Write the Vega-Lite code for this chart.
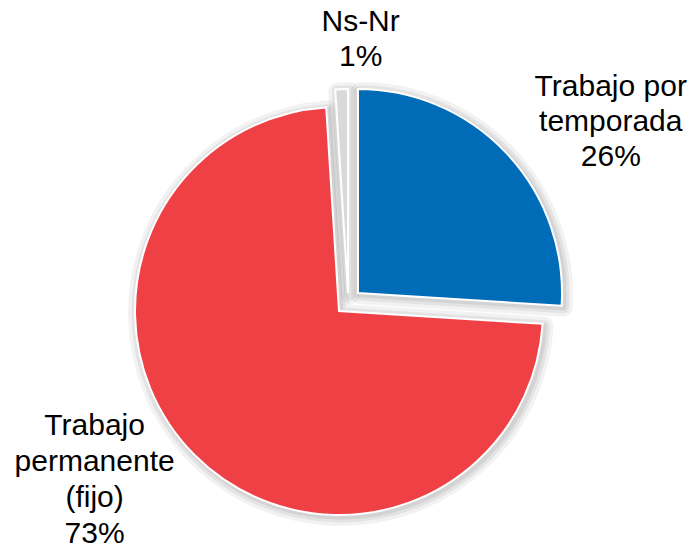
{
  "$schema": "https://vega.github.io/schema/vega-lite/v6.json",
  "width": 694,
  "height": 551,
  "padding": 0,
  "autosize": "none",
  "background": "white",
  "view": {"stroke": null},
  "data": {
    "values": [
      {"cat": "Trabajo por temporada", "value": 26, "label": "Trabajo por\ntemporada\n26%"},
      {"cat": "Trabajo permanente (fijo)", "value": 73, "label": "Trabajo\npermanente\n(fijo)\n73%"},
      {"cat": "Ns-Nr", "value": 1, "label": "Ns-Nr\n1%"}
    ]
  },
  "transform": [{"stack": "value", "groupby": [], "sort": [{"field": "cat", "order": "descending"}], "as": ["v0", "v1"]}],
  "layer": [
    {"transform": [{"filter": "datum.cat === 'Trabajo por temporada'"}],
     "mark": {"type": "arc", "outerRadius": 204, "fill": null, "stroke": "#000", "strokeOpacity": 0.05, "strokeWidth": 18, "strokeJoin": "round", "xOffset": 13, "yOffset": 19.5},
     "encoding": {"theta": {"field": "v0", "type": "quantitative", "scale": {"domain": [0, 100]}}, "theta2": {"field": "v1"}}},
    {"transform": [{"filter": "datum.cat === 'Trabajo por temporada'"}],
     "mark": {"type": "arc", "outerRadius": 204, "fill": null, "stroke": "#000", "strokeOpacity": 0.06, "strokeWidth": 11, "strokeJoin": "round", "xOffset": 13, "yOffset": 19.5},
     "encoding": {"theta": {"field": "v0", "type": "quantitative"}, "theta2": {"field": "v1"}}},
    {"transform": [{"filter": "datum.cat === 'Trabajo por temporada'"}],
     "mark": {"type": "arc", "outerRadius": 204, "fill": null, "stroke": "#000", "strokeOpacity": 0.07, "strokeWidth": 5, "strokeJoin": "round", "xOffset": 13, "yOffset": 19.5},
     "encoding": {"theta": {"field": "v0", "type": "quantitative"}, "theta2": {"field": "v1"}}},
    {"transform": [{"filter": "datum.cat === 'Trabajo permanente (fijo)'"}],
     "mark": {"type": "arc", "outerRadius": 204, "fill": null, "stroke": "#000", "strokeOpacity": 0.05, "strokeWidth": 18, "strokeJoin": "round", "xOffset": -6, "yOffset": 37.5},
     "encoding": {"theta": {"field": "v0", "type": "quantitative"}, "theta2": {"field": "v1"}}},
    {"transform": [{"filter": "datum.cat === 'Trabajo permanente (fijo)'"}],
     "mark": {"type": "arc", "outerRadius": 204, "fill": null, "stroke": "#000", "strokeOpacity": 0.06, "strokeWidth": 11, "strokeJoin": "round", "xOffset": -6, "yOffset": 37.5},
     "encoding": {"theta": {"field": "v0", "type": "quantitative"}, "theta2": {"field": "v1"}}},
    {"transform": [{"filter": "datum.cat === 'Trabajo permanente (fijo)'"}],
     "mark": {"type": "arc", "outerRadius": 204, "fill": null, "stroke": "#000", "strokeOpacity": 0.07, "strokeWidth": 5, "strokeJoin": "round", "xOffset": -6, "yOffset": 37.5},
     "encoding": {"theta": {"field": "v0", "type": "quantitative"}, "theta2": {"field": "v1"}}},
    {"transform": [{"filter": "datum.cat === 'Ns-Nr'"}],
     "mark": {"type": "arc", "outerRadius": 204, "fill": null, "stroke": "#000", "strokeOpacity": 0.05, "strokeWidth": 18, "strokeJoin": "round", "xOffset": 3, "yOffset": 19.5},
     "encoding": {"theta": {"field": "v0", "type": "quantitative"}, "theta2": {"field": "v1"}}},
    {"transform": [{"filter": "datum.cat === 'Ns-Nr'"}],
     "mark": {"type": "arc", "outerRadius": 204, "fill": null, "stroke": "#000", "strokeOpacity": 0.06, "strokeWidth": 11, "strokeJoin": "round", "xOffset": 3, "yOffset": 19.5},
     "encoding": {"theta": {"field": "v0", "type": "quantitative"}, "theta2": {"field": "v1"}}},
    {"transform": [{"filter": "datum.cat === 'Trabajo por temporada'"}],
     "mark": {"type": "arc", "outerRadius": 204, "fill": "#006BB6", "stroke": "white", "strokeWidth": 2, "xOffset": 11, "yOffset": 17.5},
     "encoding": {"theta": {"field": "v0", "type": "quantitative"}, "theta2": {"field": "v1"}}},
    {"transform": [{"filter": "datum.cat === 'Trabajo permanente (fijo)'"}],
     "mark": {"type": "arc", "outerRadius": 204, "fill": "#EF4145", "stroke": "white", "strokeWidth": 2, "xOffset": -8, "yOffset": 35.5},
     "encoding": {"theta": {"field": "v0", "type": "quantitative"}, "theta2": {"field": "v1"}}},
    {"transform": [{"filter": "datum.cat === 'Ns-Nr'"}],
     "mark": {"type": "arc", "outerRadius": 204, "fill": "#D9D9D9", "stroke": "white", "strokeWidth": 2, "xOffset": 1, "yOffset": 17.5},
     "encoding": {"theta": {"field": "v0", "type": "quantitative"}, "theta2": {"field": "v1"}}},
    {"mark": {"type": "text", "radius": 296, "dx": 48, "dy": 14, "font": "Liberation Sans", "fontSize": 30, "lineBreak": "\n", "lineHeight": 35, "align": "center", "baseline": "middle", "color": "black"},
     "encoding": {"theta": {"field": "value", "type": "quantitative", "stack": true},
                  "order": {"field": "cat", "sort": "descending"},
                  "text": {"condition": {"test": "datum.cat === 'Trabajo por temporada'", "field": "label"}, "value": ""}}},
    {"mark": {"type": "text", "radius": 323, "dx": -24, "dy": -78, "font": "Liberation Sans", "fontSize": 30, "lineBreak": "\n", "lineHeight": 36, "align": "center", "baseline": "middle", "color": "black"},
     "encoding": {"theta": {"field": "value", "type": "quantitative", "stack": true},
                  "order": {"field": "cat", "sort": "descending"},
                  "text": {"condition": {"test": "datum.cat === 'Trabajo permanente (fijo)'", "field": "label"}, "value": ""}}},
    {"mark": {"type": "text", "radius": 235, "dx": 21, "dy": -19, "font": "Liberation Sans", "fontSize": 30, "lineBreak": "\n", "lineHeight": 35, "align": "center", "baseline": "middle", "color": "black"},
     "encoding": {"theta": {"field": "value", "type": "quantitative", "stack": true},
                  "order": {"field": "cat", "sort": "descending"},
                  "text": {"condition": {"test": "datum.cat === 'Ns-Nr'", "field": "label"}, "value": ""}}}
  ]
}
